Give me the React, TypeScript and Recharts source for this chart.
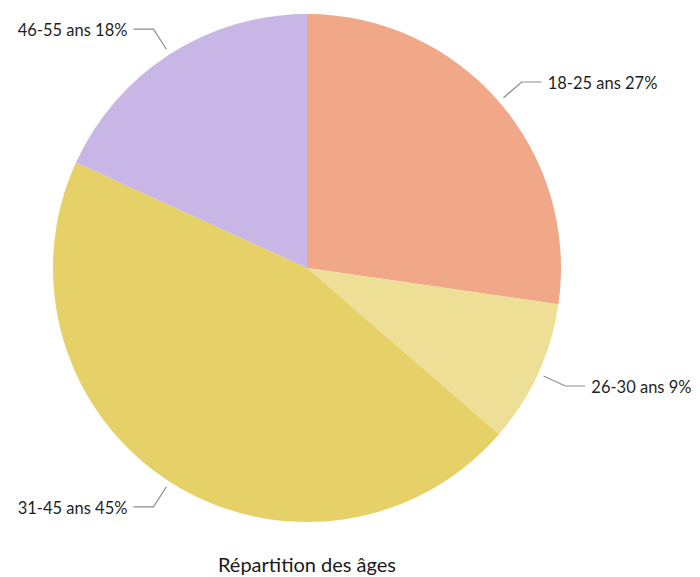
import { PieChart, Pie, Cell } from "recharts"

const categories = ["18-25 ans", "26-30 ans", "31-45 ans", "46-55 ans"]
const values = [30, 10, 50, 20]
const percentLabels = ["27%", "9%", "45%", "18%"]
const colors = ["#F0A888", "#EEDF97", "#E6D068", "#C8B7E6"]

const data = categories.map((name, i) => ({ name, value: values[i], pct: percentLabels[i] }))

const RADIAN = Math.PI / 180

function renderLabel(props: any) {
  const { cx, cy, midAngle, outerRadius, index } = props
  const sin = Math.sin(-midAngle * RADIAN)
  const cos = Math.cos(-midAngle * RADIAN)
  const sx = cx + (outerRadius + 6) * cos
  const sy = cy + (outerRadius + 6) * sin
  const mx = cx + (outerRadius + 30) * cos
  const my = cy + (outerRadius + 30) * sin
  const dir = cos >= 0 ? 1 : -1
  const ex = mx + dir * 20
  const d = data[index]
  return (
    <g>
      <path d={`M${sx},${sy}L${mx},${my}L${ex},${my}`} stroke="#8c8c8c" strokeWidth={1.2} fill="none" />
      <text
        x={ex + dir * 6}
        y={my + 1}
        textAnchor={dir > 0 ? "start" : "end"}
        dominantBaseline="central"
        fill="#1f1f1f"
        fontSize={16.5}
        fontFamily="Lato, 'Open Sans', sans-serif"
      >
        {`${d.name} ${d.pct}`}
      </text>
    </g>
  )
}

export default function App() {
  return (
    <div style={{ position: "absolute", left: 0, top: 0, width: 700, height: 577, background: "#fff" }}>
      <PieChart width={700} height={577} margin={{ top: 0, right: 0, bottom: 0, left: 0 }}>
        <Pie
          data={data}
          dataKey="value"
          nameKey="name"
          cx={307}
          cy={268}
          outerRadius={254}
          startAngle={90}
          endAngle={-270}
          stroke="none"
          label={renderLabel}
          labelLine={false}
          isAnimationActive={false}
        >
          {data.map((d, i) => (
            <Cell key={d.name} fill={colors[i]} />
          ))}
        </Pie>
      </PieChart>
      <div
        style={{
          position: "absolute",
          left: 0,
          width: 614,
          top: 552,
          textAlign: "center",
          fontFamily: "Lato, 'Open Sans', sans-serif",
          fontSize: 20,
          color: "#1a1a1a",
        }}
      >
        Répartition des âges
      </div>
    </div>
  )
}
